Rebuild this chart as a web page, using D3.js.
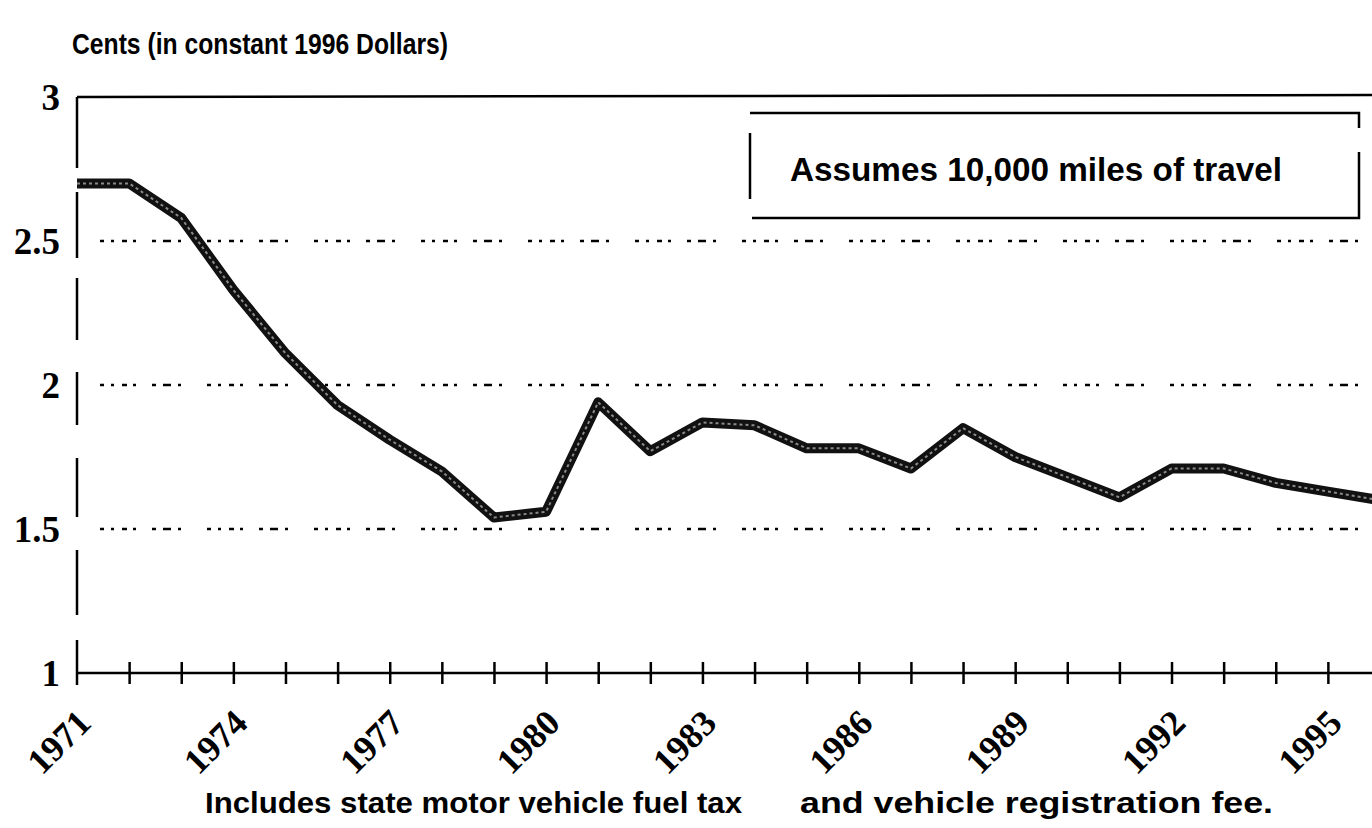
<!DOCTYPE html>
<html>
<head>
<meta charset="utf-8">
<script src="https://cdn.jsdelivr.net/npm/d3@7"></script>
<style>
  body { margin: 0; background: #fff; }
  svg { display: block; }
  .sans { font-family: "Liberation Sans", Arial, sans-serif; font-weight: bold; }
  .serif { font-family: "Liberation Serif", "Times New Roman", serif; font-weight: bold; }
</style>
</head>
<body>
<div id="chart"></div>
<script>
// Data
var years = [1971, 1972, 1973, 1974, 1975, 1976, 1977, 1978, 1979, 1980, 1981, 1982, 1983,
             1984, 1985, 1986, 1987, 1988, 1989, 1990, 1991, 1992, 1993, 1994, 1995, 1996];
var cents = [2.70, 2.70, 2.58, 2.33, 2.11, 1.93, 1.81, 1.70, 1.54, 1.56, 1.94, 1.77, 1.87,
             1.86, 1.78, 1.78, 1.71, 1.85, 1.75, 1.68, 1.61, 1.71, 1.71, 1.66, 1.63, 1.60];
var yTicks = [1, 1.5, 2, 2.5, 3];
var yTickLabels = ["1", "1.5", "2", "2.5", "3"];
var gridValues = [1.5, 2, 2.5];
var xLabelYears = [1971, 1974, 1977, 1980, 1983, 1986, 1989, 1992, 1995];
var titleText = "Cents (in constant 1996 Dollars)";
var noteText = "Assumes 10,000 miles of travel";
var captionParts = ["Includes state motor vehicle fuel tax", "and vehicle registration fee."];

var W = 1372, H = 828;
var svg = d3.select("#chart")
    .append("svg")
    .attr("width", W)
    .attr("height", H);

// scales
var x = d3.scaleLinear()
    .domain([1971, 1996])
    .range([77, 1380]);
var y = d3.scaleLinear()
    .domain([1, 3])
    .range([673, 97]);

// title
svg.append("text")
    .attr("class", "sans")
    .attr("x", 72)
    .attr("y", 54)
    .style("font-size", "30px")
    .attr("textLength", 376)
    .attr("lengthAdjust", "spacingAndGlyphs")
    .text(titleText);

// dotted gridlines
svg.append("g")
    .selectAll("line")
    .data(gridValues)
    .join("line")
    .attr("x1", 100)
    .attr("x2", W)
    .attr("y1", function (d) { return y(d); })
    .attr("y2", function (d) { return y(d); })
    .attr("stroke", "#000")
    .attr("stroke-width", 2.5)
    .attr("stroke-dasharray", "4,7,3,8,5,6,3,16,4,7,8,7,3,26");

// top frame line
svg.append("line")
    .attr("x1", x(1971))
    .attr("x2", W)
    .attr("y1", y(3))
    .attr("y2", y(3) - 2)
    .attr("stroke", "#000")
    .attr("stroke-width", 2.5);

// left axis line, broken like the scan
svg.append("line")
    .attr("x1", x(1971))
    .attr("x2", x(1971))
    .attr("y1", y(3))
    .attr("y2", y(1) + 12)
    .attr("stroke", "#000")
    .attr("stroke-width", 2.5)
    .attr("stroke-dasharray", "71,24,66,20,62,32,53,33,59,33,65,25,60");

// y tick labels
svg.append("g")
    .selectAll("text")
    .data(yTicks)
    .join("text")
    .attr("class", "serif")
    .attr("x", 60)
    .attr("y", function (d) { return y(d); })
    .attr("dy", "0.34em")
    .style("font-size", "37px")
    .style("text-anchor", "end")
    .text(function (d, i) { return yTickLabels[i]; });

// bottom axis with crossing ticks
var xaxis = d3.axisBottom(x)
    .tickValues(d3.range(1972, 1997))
    .tickSize(11)
    .tickFormat("");
var gx = svg.append("g")
    .attr("transform", "translate(0," + y(1) + ")")
    .call(xaxis);
gx.select(".domain")
    .attr("d", "M" + x(1971) + ",0H" + W)
    .attr("stroke-width", 2.5);
gx.selectAll(".tick line")
    .attr("y1", -11)
    .attr("stroke-width", 2.5);

// rotated year labels
svg.append("g")
    .selectAll("text")
    .data(xLabelYears)
    .join("text")
    .attr("class", "serif")
    .style("font-size", "36px")
    .style("text-anchor", "end")
    .attr("transform", function (d) {
        return "translate(" + (x(d) + 16) + "," + (y(1) + 52) + ") rotate(-45)";
    })
    .text(function (d) { return d; });

// annotation box, drawn in pieces like the broken scan
var box = svg.append("g")
    .attr("stroke", "#000")
    .attr("stroke-width", 2.5)
    .attr("fill", "none");
box.append("path").attr("d", "M750,113H1359V128");
box.append("path").attr("d", "M1359,152V218H752");
box.append("path").attr("d", "M750,133V199");
svg.append("text")
    .attr("class", "sans")
    .attr("x", 790)
    .attr("y", 181)
    .style("font-size", "34px")
    .attr("textLength", 492)
    .attr("lengthAdjust", "spacingAndGlyphs")
    .text(noteText);

// data line
var line = d3.line()
    .x(function (d, i) { return x(years[i]); })
    .y(function (d) { return y(d); });
svg.append("path")
    .datum(cents)
    .attr("d", line)
    .attr("fill", "none")
    .attr("stroke", "#111")
    .attr("stroke-width", 10)
    .attr("stroke-linejoin", "round");
svg.append("path")
    .datum(cents)
    .attr("d", line)
    .attr("fill", "none")
    .attr("stroke", "#8a8a8a")
    .attr("stroke-width", 2)
    .attr("stroke-dasharray", "3,3");

// caption
svg.append("text")
    .attr("class", "sans")
    .attr("x", 205)
    .attr("y", 813)
    .style("font-size", "30px")
    .attr("textLength", 537)
    .attr("lengthAdjust", "spacingAndGlyphs")
    .text(captionParts[0]);
svg.append("text")
    .attr("class", "sans")
    .attr("x", 800)
    .attr("y", 813)
    .style("font-size", "30px")
    .attr("textLength", 473)
    .attr("lengthAdjust", "spacingAndGlyphs")
    .text(captionParts[1]);
</script>
</body>
</html>
